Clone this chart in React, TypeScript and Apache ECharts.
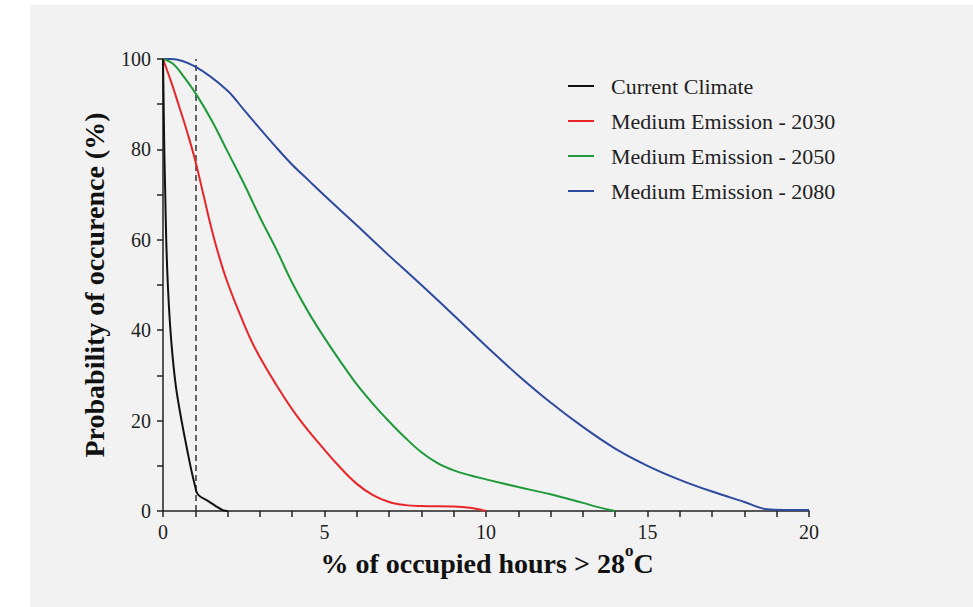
import React, { useEffect, useRef } from "react";
import * as echarts from "echarts";

const seriesNames = [
  "Current Climate",
  "Medium Emission - 2030",
  "Medium Emission - 2050",
  "Medium Emission - 2080",
];

const xAxisTitle = "{a|% of occupied hours > 28}{s|o}{a|C}";
const yAxisTitle = "Probability of occurence (%)";

const currentClimate: [number, number][] = [
  [0, 100], [0.02, 90], [0.04, 80], [0.07, 70], [0.1, 60], [0.15, 50], [0.22, 41],
  [0.3, 34], [0.4, 27.5], [0.5, 23], [0.6, 19], [0.7, 15.3], [0.8, 11.7], [0.9, 8.3],
  [1, 5.3], [1.05, 4], [1.15, 3.2], [1.4, 2.2], [1.7, 0.8], [1.85, 0.2], [2, 0],
];

const emission2030: [number, number][] = [
  [0, 100], [0.25, 95], [0.5, 89.5], [0.75, 83.8], [1, 77.5], [1.25, 70], [1.5, 62.5],
  [1.75, 56], [2, 50.5], [2.4, 43.2], [2.85, 36], [3.5, 28], [4.15, 21], [5, 13.5],
  [5.5, 9.5], [6, 6], [6.5, 3.5], [7, 2], [7.5, 1.3], [8, 1.1], [9, 1], [9.5, 0.7],
  [10, 0],
];

const emission2050: [number, number][] = [
  [0, 100], [0.3, 99], [0.6, 96.5], [1, 92.5], [1.5, 86.5], [2, 79.5], [2.5, 72.5],
  [3, 65], [3.5, 58], [4, 50.5], [4.5, 44], [5, 38.3], [5.5, 33], [6, 28], [6.5, 23.7],
  [7, 19.8], [7.5, 16.2], [8, 13], [8.5, 10.6], [9, 9], [9.5, 7.9], [10, 7],
  [11, 5.3], [12, 3.7], [13, 1.8], [13.5, 0.8], [14, 0],
];

const emission2080: [number, number][] = [
  [0, 100], [0.25, 100], [1, 98.3], [2, 93], [2.5, 88.8], [3, 84.6], [3.5, 80.5],
  [4, 76.6], [4.5, 73.2], [5, 69.8], [6, 63.2], [7, 56.5], [8, 50], [9, 43.3],
  [10, 36.5], [11, 30], [12, 24], [13, 18.6], [14, 13.8], [15, 10], [16, 6.9],
  [17, 4.3], [18, 2], [18.7, 0.4], [20, 0.2],
];

const seriesData = [currentClimate, emission2030, emission2050, emission2080];
const seriesColors = ["#111111", "#e8262a", "#1f9a3a", "#2e4a9f"];
const seriesSmooth = [0.4, 0.4, 0.4, 0.3];

const FONT = "'Liberation Serif', 'DejaVu Serif', serif";

export default function App() {
  const ref = useRef<HTMLDivElement>(null);
  useEffect(() => {
    if (!ref.current) return;
    const chart = echarts.init(ref.current, null, { renderer: "svg" });
    chart.setOption({
      animation: false,
      backgroundColor: "#ffffff",
      textStyle: { fontFamily: FONT },
      graphic: [
        {
          type: "rect",
          z: -10,
          silent: true,
          shape: { x: 30, y: 5, width: 943, height: 602 },
          style: { fill: "#f2f2f2" },
        },
        {
          type: "text",
          silent: true,
          x: 487,
          y: 563,
          style: {
            text: xAxisTitle,
            align: "center",
            verticalAlign: "middle",
            rich: {
              a: { fontFamily: FONT, fontSize: 28, fontWeight: "bold", fill: "#111", color: "#111" },
              s: {
                fontFamily: FONT,
                fontSize: 17,
                fontWeight: "bold",
                fill: "#111",
                color: "#111",
                padding: [0, 0, 26, 0],
              },
            },
          },
        },
      ],
      grid: { left: 163, right: 164, top: 59, bottom: 96, containLabel: false },
      legend: {
        orient: "vertical",
        left: 563,
        top: 70,
        icon: "rect",
        itemWidth: 26,
        itemHeight: 2,
        itemGap: 13,
        data: seriesNames,
        textStyle: {
          fontFamily: FONT,
          fontSize: 22,
          color: "#222",
          lineHeight: 22,
          padding: [0, 0, 0, 12],
        },
      },
      xAxis: {
        type: "value",
        min: 0,
        max: 20,
        interval: 5,
        axisLine: { show: true, lineStyle: { color: "#222", width: 1.5 } },
        axisTick: { show: true, inside: false, length: 6, lineStyle: { color: "#222", width: 1.5 } },
        minorTick: { show: true, splitNumber: 5, length: 6, lineStyle: { color: "#222", width: 1.5 } },
        axisLabel: { fontFamily: FONT, fontSize: 20, color: "#222", margin: 11 },
        splitLine: { show: false },
        minorSplitLine: { show: false },
      },
      yAxis: {
        type: "value",
        min: 0,
        max: 100,
        interval: 20,
        name: yAxisTitle,
        nameLocation: "middle",
        nameGap: 55,
        nameTextStyle: { fontFamily: FONT, fontSize: 28, fontWeight: "bold", color: "#111" },
        axisLine: { show: true, lineStyle: { color: "#222", width: 1.5 } },
        axisTick: { show: true, inside: false, length: 6, lineStyle: { color: "#222", width: 1.5 } },
        minorTick: { show: true, splitNumber: 2, length: 6, lineStyle: { color: "#222", width: 1.5 } },
        axisLabel: { fontFamily: FONT, fontSize: 20, color: "#222", margin: 12 },
        splitLine: { show: false },
        minorSplitLine: { show: false },
      },
      series: seriesNames.map((name, i) => ({
        name,
        type: "line",
        data: seriesData[i],
        showSymbol: false,
        symbol: "none",
        smooth: seriesSmooth[i],
        z: 10 - i,
        lineStyle: { color: seriesColors[i], width: 2 },
        itemStyle: { color: seriesColors[i] },
        markLine:
          i === 0
            ? {
                silent: true,
                symbol: "none",
                label: { show: false },
                lineStyle: { color: "#333", type: [6, 4], width: 1.5 },
                data: [{ xAxis: 1 }],
              }
            : undefined,
      })),
    });
    return () => chart.dispose();
  }, []);
  return (
    <div
      ref={ref}
      style={{ position: "absolute", left: 0, top: 0, width: 973, height: 607 }}
    />
  );
}
